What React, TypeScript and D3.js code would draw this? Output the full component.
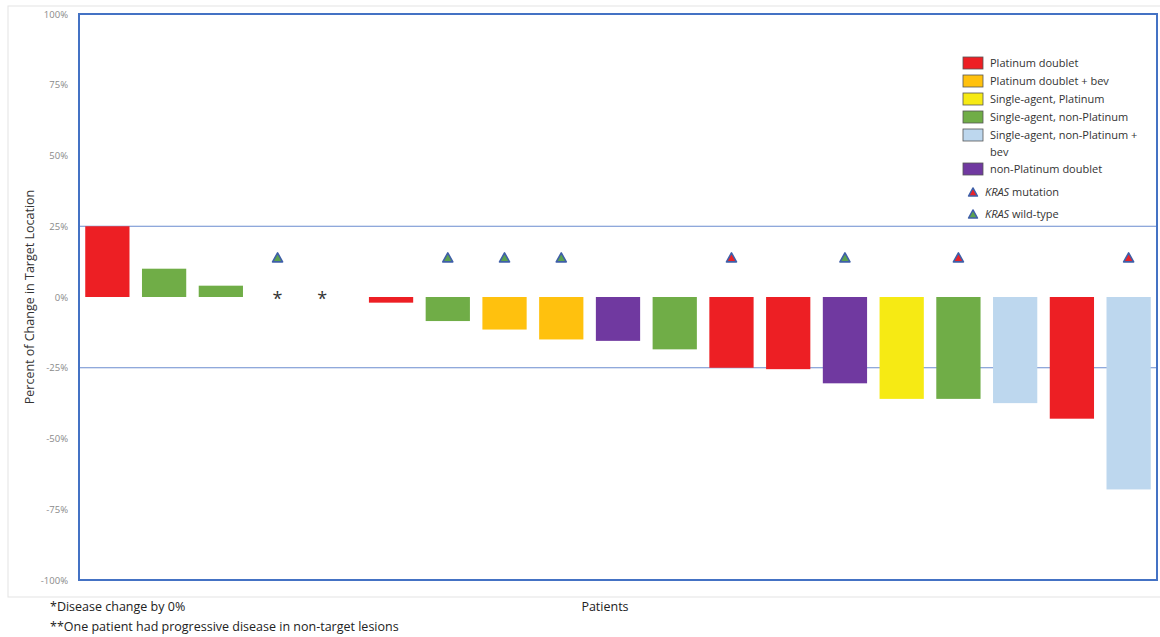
import React from "react";
import * as d3 from "d3";

const patients = ["P1","P2","P3","P4","P5","P6","P7","P8","P9","P10","P11","P12","P13","P14","P15","P16","P17","P18","P19"];
const changes = [25, 10, 4, 0, 0, -2, -8.5, -11.5, -15, -15.5, -18.5, -25, -25.5, -30.5, -36, -36, -37.5, -43, -68];
const regimens = ["PD","SNP","SNP","none","none","PD","SNP","PDB","PDB","NPD","SNP","PD","PD","NPD","SP","SNP","SNPB","PD","SNPB"];
const zeroMarks = [false, false, false, true, true, false, false, false, false, false, false, false, false, false, false, false, false, false, false];
const kras = ["", "", "", "wt", "", "", "wt", "wt", "wt", "", "", "mut", "", "wt", "", "mut", "", "", "mut"];
const krasLevel = 14;

const regimenKeys = ["PD", "PDB", "SP", "SNP", "SNPB", "NPD"];
const regimenLabels = [["Platinum doublet"], ["Platinum doublet + bev"], ["Single-agent, Platinum"], ["Single-agent, non-Platinum"], ["Single-agent, non-Platinum +", "bev"], ["non-Platinum doublet"]];
const regimenColors = ["#ED1F24", "#FFC10E", "#F6EA14", "#70AD47", "#BDD7EE", "#7039A0"];
const yTicks = [100, 75, 50, 25, 0, -25, -50, -75, -100];
const gridValues = [25, -25];

export default function App() {
  const W = 1160, H = 637;
  const left = 79, right = 1157, top = 14, bottom = 580;
  const x = d3.scaleBand<string>().domain(patients).range([left, right]).paddingInner(0.22).paddingOuter(0.11);
  const y = d3.scaleLinear().domain([-100, 100]).range([bottom, top]);
  const color = d3.scaleOrdinal<string, string>().domain(regimenKeys).range(regimenColors);
  const font = "'Open Sans', 'Noto Sans', sans-serif";
  const tri = (cx: number, cy: number, s: number) => {
    const h = s * 0.9;
    return `M${cx},${cy - h / 2}L${cx + s / 2},${cy + h / 2}L${cx - s / 2},${cy + h / 2}Z`;
  };
  const legendX = 963;
  const legendRowsY = [63, 81, 99, 117, 135, 169];
  return (
    <svg width={W} height={H} style={{ position: "absolute", left: 0, top: 0, background: "#fff" }} fontFamily={font}>
      <rect x={8} y={6} width={1160} height={591} fill="none" stroke="#e3e3e3" strokeWidth={1} />
      {gridValues.map((g) => (
        <line key={g} x1={left} x2={right} y1={y(g)} y2={y(g)} stroke="#6b8ccf" strokeWidth={1} />
      ))}
      {patients.map((p, i) => {
        const v = changes[i];
        if (regimens[i] === "none") return null;
        const y0 = y(Math.max(0, v)), y1 = y(Math.min(0, v));
        return <rect key={p} x={x(p)} y={y0} width={x.bandwidth()} height={Math.max(1, y1 - y0)} fill={color(regimens[i])} />;
      })}
      {patients.map((p, i) =>
        zeroMarks[i] ? (
          <text key={"a" + p} x={(x(p) as number) + x.bandwidth() / 2 + (i === 4 ? -12 : 0)} y={y(0) + 8} textAnchor="middle" fontSize={18} fill="#333">*</text>
        ) : null
      )}
      {patients.map((p, i) =>
        kras[i] ? (
          <path key={"k" + p} d={tri((x(p) as number) + x.bandwidth() / 2, y(krasLevel), 10)} fill={kras[i] === "mut" ? "#E8232A" : "#5BA150"} stroke="#3F5FA8" strokeWidth={1.6} strokeLinejoin="round" />
        ) : null
      )}
      <rect x={left} y={top} width={right - left} height={bottom - top} fill="none" stroke="#4472C4" strokeWidth={2} />
      {yTicks.map((t) => (
        <text key={t} x={68} y={y(t) + 3.5} textAnchor="end" fontSize={9.5} fill="#8a8a8a">{t}%</text>
      ))}
      <text transform={`translate(34,${y(0)}) rotate(-90)`} textAnchor="middle" fontSize={12.5} fill="#333">Percent of Change in Target Location</text>
      {regimenKeys.map((k, i) => (
        <g key={k}>
          <rect x={legendX} y={legendRowsY[i] - 6} width={20} height={12} fill={regimenColors[i]} stroke="#555" strokeWidth={0.8} />
          {regimenLabels[i].map((line, j) => (
            <text key={j} x={legendX + 27} y={legendRowsY[i] + 4 + j * 17} fontSize={11} fill="#333">{line}</text>
          ))}
        </g>
      ))}
      <path d={tri(973, 192, 9)} fill="#E8232A" stroke="#3F5FA8" strokeWidth={1.4} strokeLinejoin="round" />
      <text x={legendX + 22} y={196} fontSize={11} fill="#333"><tspan fontStyle="italic">KRAS</tspan> mutation</text>
      <path d={tri(973, 214, 9)} fill="#5BA150" stroke="#3F5FA8" strokeWidth={1.4} strokeLinejoin="round" />
      <text x={legendX + 22} y={218} fontSize={11} fill="#333"><tspan fontStyle="italic">KRAS</tspan> wild-type</text>
      <text x={50} y={611} fontSize={12.5} fill="#222">*Disease change by 0%</text>
      <text x={50} y={631} fontSize={12.5} fill="#222">**One patient had progressive disease in non-target lesions</text>
      <text x={605} y={611} textAnchor="middle" fontSize={12.5} fill="#222">Patients</text>
    </svg>
  );
}
